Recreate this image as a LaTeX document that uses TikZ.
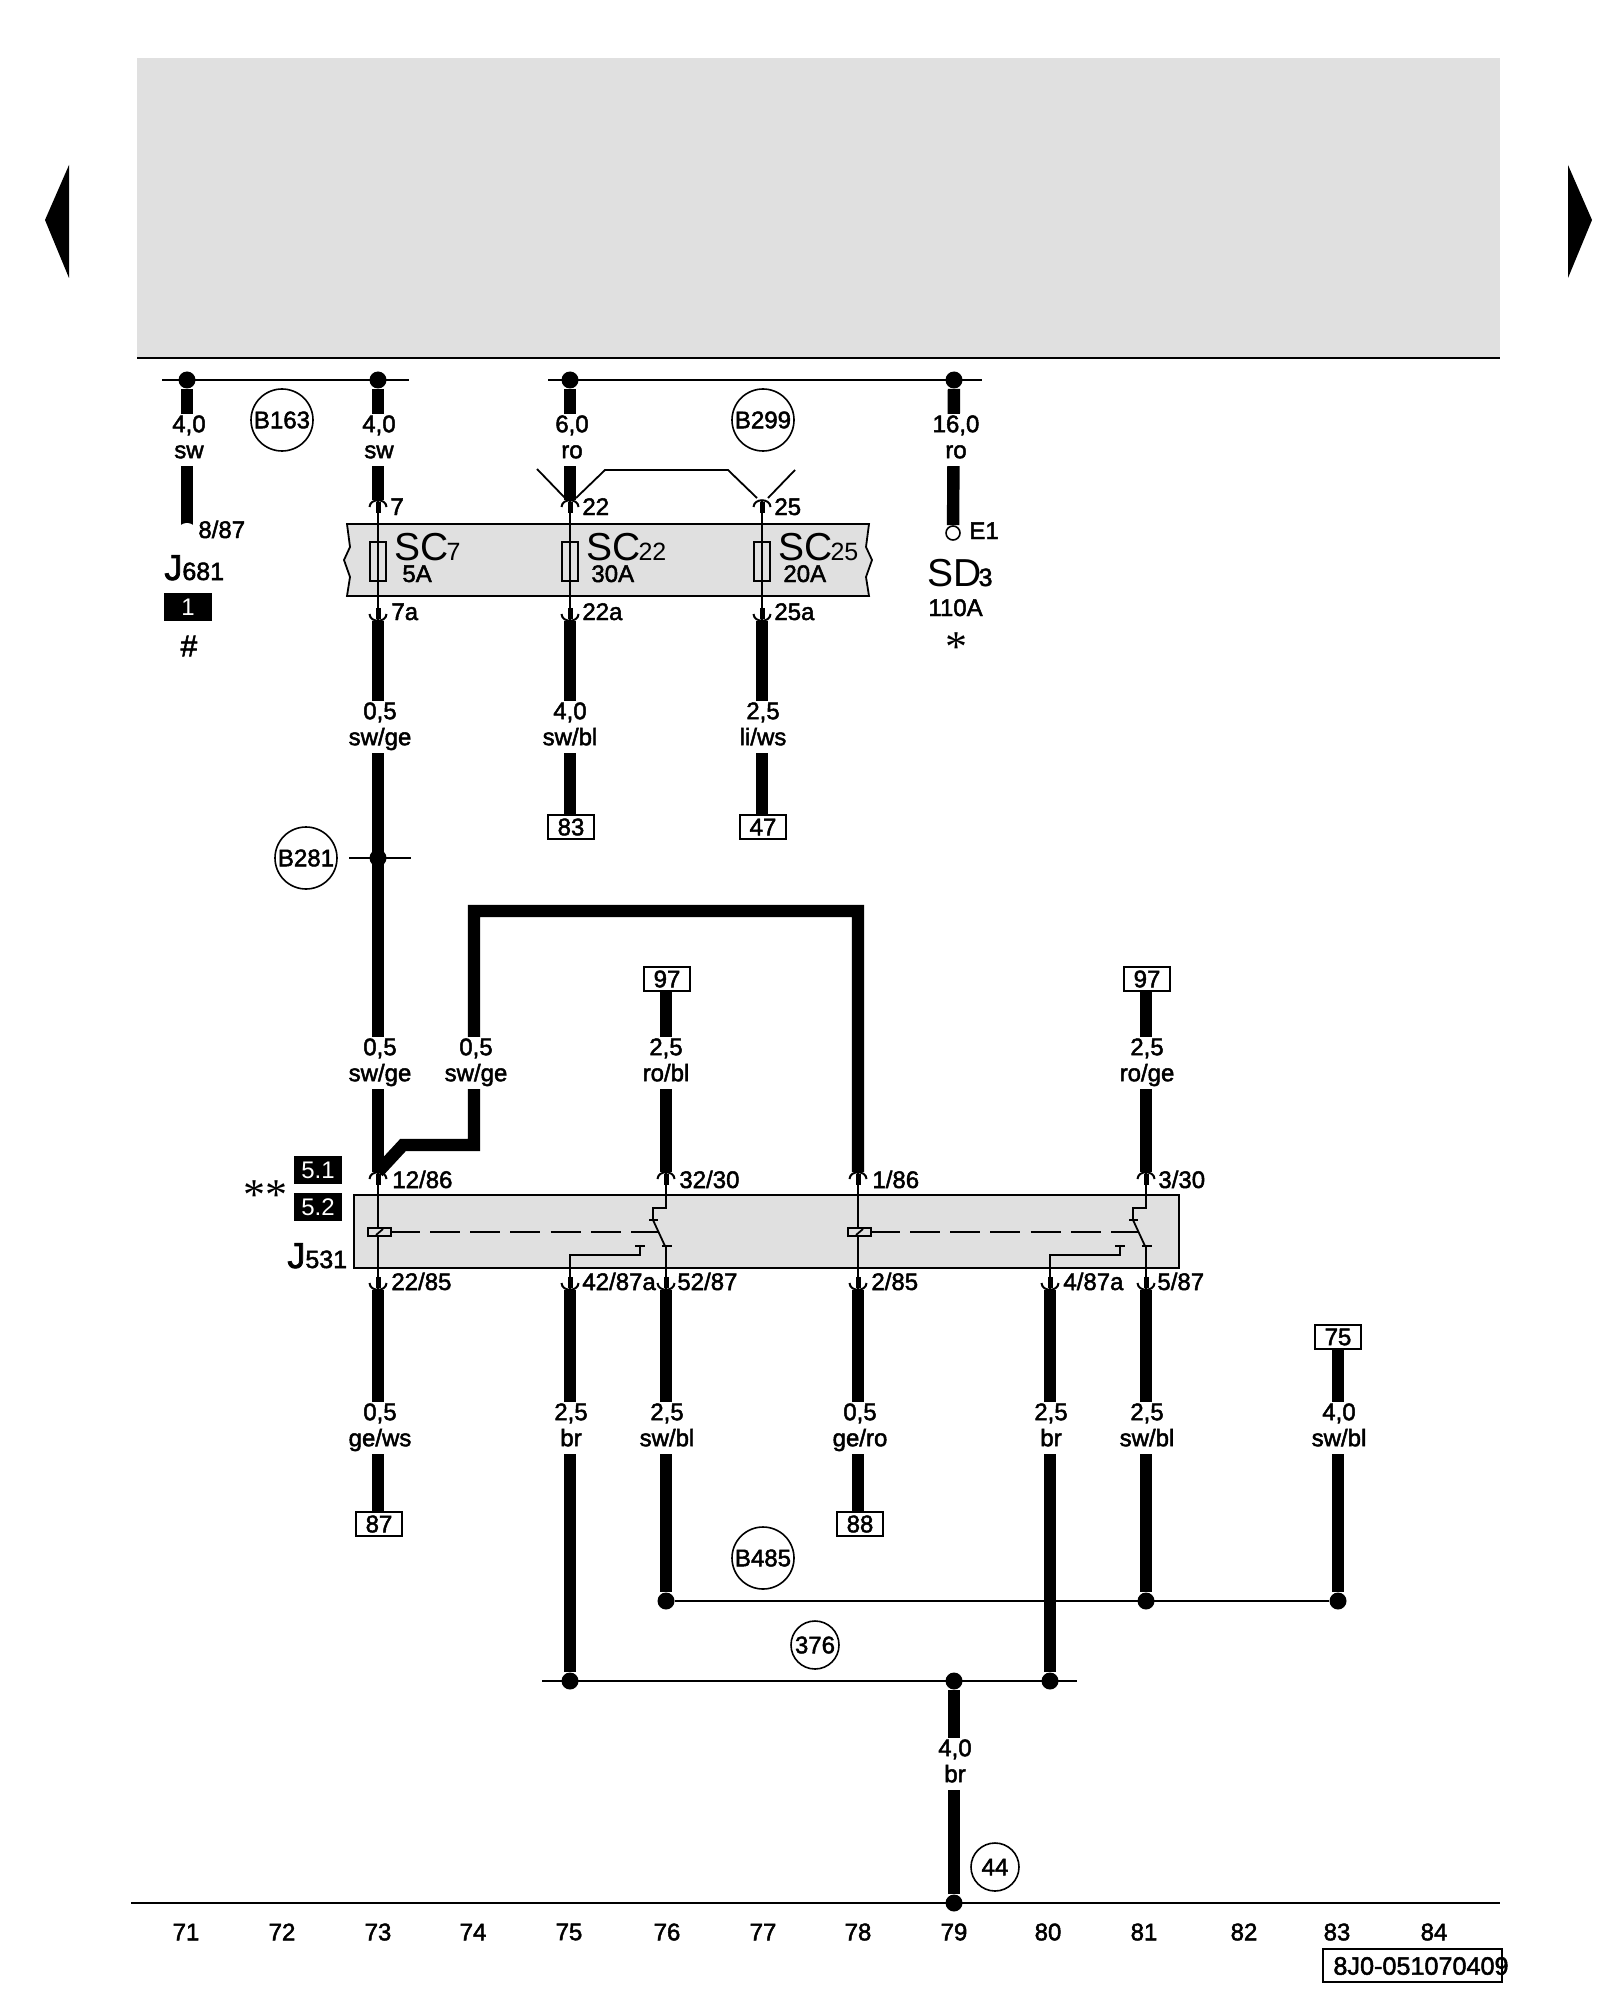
\documentclass[tikz,border=0pt]{standalone}
\usepackage{fontspec}
\setmainfont{Liberation Sans}[FakeBold=2]
\newfontfamily\lightfont{Liberation Sans}
\newfontfamily\symfont{Liberation Serif}
\newcommand\bigsz{\lightfont\fontsize{19.5}{20}\selectfont}
\newcommand\midsz{\fontsize{18}{18}\selectfont}
\newcommand\subsz{\fontsize{12.5}{12.5}\selectfont}
\newcommand\wl[2]{\strut#1\\\strut#2}
\definecolor{panelgray}{HTML}{E0E0E0}
\tikzset{
  wire/.style={line width=6.2pt},
  busline/.style={line width=1pt},
  thinline/.style={line width=.9pt},
  wiredot/.style={circle,fill=black,minimum size=8.5pt,inner sep=0pt},
  wirelabel/.style={fill=white,align=center,inner xsep=1pt,inner ysep=0pt,font=\fontsize{12}{13}\selectfont},
  pinlabel/.style={anchor=base west,inner sep=0pt,font=\fontsize{12}{13}\selectfont},
  partlabel/.style={anchor=base west,inner sep=0pt,font=\fontsize{12}{13}\selectfont},
  termbox/.style={draw,line width=.8pt,fill=white,minimum width=23pt,minimum height=12pt,inner sep=0pt,font=\fontsize{12}{13}\selectfont},
  secbox/.style={fill=black,text=white,minimum width=24pt,minimum height=14pt,inner sep=0pt,font=\lightfont\fontsize{12}{13}\selectfont},
  refcircle/.style={circle,draw,line width=.8pt,minimum size=31pt,inner sep=0pt,font=\fontsize{12}{13}\selectfont},
  smallcircle/.style={refcircle,minimum size=24pt},
  fusebox/.style={draw,line width=.8pt,minimum width=8pt,minimum height=19.5pt,inner sep=0pt},
  colnum/.style={inner sep=0pt,font=\fontsize{12}{13}\selectfont},
  pinup/.pic={
    \draw[line width=1pt] (-8.5,7) .. controls (-8,-2) and (8,-2) .. (8.5,7);
    \draw[line width=2.5pt] (0,2) -- (0,13);
  },
  pindown/.pic={
    \draw[line width=1pt] (-8.5,-7) .. controls (-8,2) and (8,2) .. (8.5,-7);
    \draw[line width=2.5pt] (0,-2) -- (0,-13);
  },
  relaysw/.pic={
    \draw[thinline] (0,0) -- (0,118);
    \node[draw,line width=.8pt,fill=panelgray,minimum width=11.5pt,minimum height=4pt,inner sep=0pt] (-coil) at (1.5,60) {};
    \draw[thinline] (-2,63) -- (5,57);
    \draw[line width=1.1pt,dash pattern=on 15pt off 5.1pt,dash phase=1pt] (-coil.east) -- (281,60);
    \draw[thinline] (288,0) -- (288,36) -- (275,36) -- (275,48) -- (287,74) -- (288,74) -- (288,118);
    \draw[thinline] (271,48) -- (280,48);
    \draw[thinline] (284,74) -- (294,74);
    \draw[thinline] (257,74) -- (267,74);
    \draw[thinline] (262,74) -- (262,83) -- (192,83) -- (192,118);
  },
}
\begin{document}
\begin{tikzpicture}[x=.5pt,y=-.5pt]
\useasboundingbox (0,0) rectangle (1600,2000);
% page head
\fill[panelgray] (137,58) rectangle (1500,358);
\draw[line width=1pt] (137,358) -- (1500,358);
\fill (69,165) -- (45,220) -- (69,278) -- cycle;
\fill (1568,165) -- (1592,220) -- (1568,278) -- cycle;
% grey units
\draw[thinline,fill=panelgray] (347,524) -- (350,547) -- (344,560) -- (350,577) -- (347,596) -- (869,596) -- (866,577) -- (872,560) -- (866,547) -- (869,524) -- cycle;
\draw[thinline,fill=panelgray] (354,1195) rectangle (1179,1268);
% top bus
\draw[busline] (162,380) -- (409,380);
\draw[busline] (548,380) -- (982,380);
\node[wiredot] (d71) at (187,380) {};
\node[wiredot] (d73) at (378,380) {};
\node[wiredot] (d75) at (570,380) {};
\node[wiredot] (d79) at (954,380) {};
\coordinate (j681) at (187,527);
\coordinate (pin7) at (378,500);
\coordinate (pin22) at (570,500);
\coordinate (pin25) at (762,500);
\coordinate (pin7a) at (378,621);
\coordinate (pin22a) at (570,621);
\coordinate (pin25a) at (762,621);
\node[circle,draw,line width=.8pt,fill=white,minimum size=7pt,inner sep=0pt] (e1) at (953,533) {};
\draw[wire] (d71) -- (j681);
\draw[wire] (d73) -- (pin7);
\draw[wire] (d75) -- (pin22);
\draw[wire] (d79) -- (e1);
\fill[white] (187,529) ellipse (8 and 6);
% fuses
\draw[thinline] (pin7) -- (pin7a);
\draw[thinline] (pin22) -- (pin22a);
\draw[thinline] (pin25) -- (pin25a);
\node[fusebox] (f7) at (378,561.5) {};
\node[fusebox] (f22) at (570,561.5) {};
\node[fusebox] (f25) at (762,561.5) {};
\pic at (pin7) {pinup};
\pic at (pin22) {pinup};
\pic at (pin25) {pinup};
\pic at (pin7a) {pindown};
\pic at (pin22a) {pindown};
\pic at (pin25a) {pindown};
\draw[thinline] (537,469) -- (565,498);
\draw[thinline] (576,498) -- (605,470) -- (728,470) -- (757,498);
\draw[thinline] (768,498) -- (795,470);
% terminals and wires below fuses
\node[termbox] (t83) at (571,827) {83};
\node[termbox] (t47) at (763,827) {47};
\node[wiredot] (d281) at (378,858) {};
\draw[wire] (pin22a) -- (t83.north -| pin22a);
\draw[wire] (pin25a) -- (t47.north -| pin25a);
\node[refcircle] (b281) at (306,858) {B281};
\draw[busline] (349,858) -- (411,858);
% relay wires
\coordinate (pin12) at (378,1172);
\coordinate (pin32) at (666,1172);
\coordinate (pin1) at (858,1172);
\coordinate (pin3) at (1146,1172);
\coordinate (pin22b) at (378,1290);
\coordinate (pin42) at (570,1290);
\coordinate (pin52) at (666,1290);
\coordinate (pin2) at (858,1290);
\coordinate (pin4) at (1050,1290);
\coordinate (pin5) at (1146,1290);
\coordinate (loopa) at (858,911);
\coordinate (loopb) at (474,911);
\coordinate (loopc) at (474,1145);
\coordinate (loopd) at (403,1145);
\node[termbox] (t97a) at (667,979) {97};
\node[termbox] (t97b) at (1147,979) {97};
\node[termbox] (t87) at (379,1524) {87};
\node[termbox] (t88) at (860,1524) {88};
\node[termbox] (t75) at (1338,1337) {75};
\draw[wire] (pin7a) -- (pin12);
\draw[wire] (pin12) -- (loopd) -- (loopc) -- (loopb) -- (loopa) -- (pin1);
\draw[wire] (t97a.south -| pin32) -- (pin32);
\draw[wire] (t97b.south -| pin3) -- (pin3);
\draw[wire] (pin22b) -- (t87.north -| pin22b);
\draw[wire] (pin2) -- (t88.north -| pin2);
\pic at (pin12) {relaysw};
\pic at (pin1) {relaysw};
\pic at (pin12) {pinup};
\pic at (pin32) {pinup};
\pic at (pin1) {pinup};
\pic at (pin3) {pinup};
\pic at (pin22b) {pindown};
\pic at (pin42) {pindown};
\pic at (pin52) {pindown};
\pic at (pin2) {pindown};
\pic at (pin4) {pindown};
\pic at (pin5) {pindown};
% lower buses
\node[wiredot] (d76) at (666,1601) {};
\node[wiredot] (d81) at (1146,1601) {};
\node[wiredot] (d83) at (1338,1601) {};
\node[wiredot] (d75b) at (570,1681) {};
\node[wiredot] (d80) at (1050,1681) {};
\node[wiredot] (d79b) at (954,1681) {};
\node[wiredot] (d79c) at (954,1903) {};
\draw[busline] (d76) -- (d83);
\draw[busline] (542,1681) -- (1077,1681);
\draw[wire] (pin42) -- (d75b);
\draw[wire] (pin52) -- (d76);
\draw[wire] (pin4) -- (d80);
\draw[wire] (pin5) -- (d81);
\draw[wire] (t75.south -| d83) -- (d83);
\draw[wire] (d79b) -- (d79c);
\draw[line width=1pt] (131,1903) -- (1500,1903);
% wire labels
\node[wirelabel] (l71) at (189,440) {\wl{4,0}{sw}};
\node[wirelabel] (l73) at (379,440) {\wl{4,0}{sw}};
\node[wirelabel] (l75) at (572,440) {\wl{6,0}{ro}};
\node[wirelabel] (l79) at (956,440) {\wl{16,0}{ro}};
\node[wirelabel] (l73b) at (380,727) {\wl{0,5}{sw/ge}};
\node[wirelabel] (l75b) at (570,727) {\wl{4,0}{sw/bl}};
\node[wirelabel] (l77b) at (763,727) {\wl{2,5}{li/ws}};
\node[wirelabel] (l73c) at (380,1063) {\wl{0,5}{sw/ge}};
\node[wirelabel] (l74c) at (476,1063) {\wl{0,5}{sw/ge}};
\node[wirelabel] (l76c) at (666,1063) {\wl{2,5}{ro/bl}};
\node[wirelabel] (l81c) at (1147,1063) {\wl{2,5}{ro/ge}};
\node[wirelabel] (l73d) at (380,1428) {\wl{0,5}{ge/ws}};
\node[wirelabel] (l75d) at (571,1428) {\wl{2,5}{br}};
\node[wirelabel] (l76d) at (667,1428) {\wl{2,5}{sw/bl}};
\node[wirelabel] (l78d) at (860,1428) {\wl{0,5}{ge/ro}};
\node[wirelabel] (l80d) at (1051,1428) {\wl{2,5}{br}};
\node[wirelabel] (l81d) at (1147,1428) {\wl{2,5}{sw/bl}};
\node[wirelabel] (l83d) at (1339,1428) {\wl{4,0}{sw/bl}};
\node[wirelabel] (l79d) at (955,1764) {\wl{4,0}{br}};
% circles
\node[refcircle] (b163) at (282,420) {B163};
\node[refcircle] (b299) at (763,420) {B299};
\node[refcircle] (b485) at (763,1558) {B485};
\node[smallcircle] (c376) at (815,1645) {376};
\node[smallcircle] (c44) at (995,1867) {44};
% pin labels
\node[pinlabel] (n887) at (198,538) {8/87};
\node[pinlabel] (n7) at (390,515) {7};
\node[pinlabel] (n22) at (582,515) {22};
\node[pinlabel] (n25) at (774,515) {25};
\node[pinlabel] (n7a) at (391,620) {7a};
\node[pinlabel] (n22a) at (582,620) {22a};
\node[pinlabel] (n25a) at (774,620) {25a};
\node[pinlabel] (ne1) at (969,539) {E1};
\node[pinlabel] (n1286) at (392,1188) {12/86};
\node[pinlabel] (n3230) at (679,1188) {32/30};
\node[pinlabel] (n186) at (872,1188) {1/86};
\node[pinlabel] (n330) at (1158,1188) {3/30};
\node[pinlabel] (n2285) at (391,1290) {22/85};
\node[pinlabel] (n4287) at (582,1290) {42/87a};
\node[pinlabel] (n5287) at (677,1290) {52/87};
\node[pinlabel] (n285) at (871,1290) {2/85};
\node[pinlabel] (n487) at (1063,1290) {4/87a};
\node[pinlabel] (n587) at (1157,1290) {5/87};
% part names
\node[partlabel] (j681n) at (164,580) {{\midsz J}{\subsz 681}};
\node[secbox] (s1) at (188,607) {1};
\node[inner sep=0pt,font=\fontsize{15}{15}\selectfont] (hash) at (189,646) {\#};
\node[partlabel] (sc7) at (394,560) {{\bigsz SC}{\lightfont\subsz\kern-1pt 7}};
\node[partlabel] (a5) at (402,582) {5A};
\node[partlabel] (sc22) at (586,560) {{\bigsz SC}{\lightfont\subsz\kern-1pt 22}};
\node[partlabel] (a30) at (591,582) {30A};
\node[partlabel] (sc25) at (778,560) {{\bigsz SC}{\lightfont\subsz\kern-1pt 25}};
\node[partlabel] (a20) at (783,582) {20A};
\node[partlabel] (sd3) at (927,586) {{\bigsz SD}{\subsz\kern-1.5pt 3}};
\node[partlabel] (a110) at (928,616) {110A};
\node[inner sep=0pt,font=\symfont\fontsize{22}{22}\selectfont] (star) at (956,647) {*};
\node[secbox] (s51) at (318,1170) {5.1};
\node[secbox] (s52) at (318,1207) {5.2};
\node[inner sep=0pt,font=\symfont\fontsize{22}{22}\selectfont] (stars) at (265,1195) {**};
\node[partlabel] (j531n) at (287,1268) {{\midsz J}{\subsz 531}};
% column numbers
\node[colnum] (c71) at (186,1932) {71};
\node[colnum] (c72) at (282,1932) {72};
\node[colnum] (c73) at (378,1932) {73};
\node[colnum] (c74) at (473,1932) {74};
\node[colnum] (c75) at (569,1932) {75};
\node[colnum] (c76) at (667,1932) {76};
\node[colnum] (c77) at (763,1932) {77};
\node[colnum] (c78) at (858,1932) {78};
\node[colnum] (c79) at (954,1932) {79};
\node[colnum] (c80) at (1048,1932) {80};
\node[colnum] (c81) at (1144,1932) {81};
\node[colnum] (c82) at (1244,1932) {82};
\node[colnum] (c83) at (1337,1932) {83};
\node[colnum] (c84) at (1434,1932) {84};
\draw[line width=1pt] (1323,1949) rectangle (1502,1982);
\node[colnum,font=\fontsize{12.6}{13}\selectfont] (docno) at (1421,1966) {8J0-051070409};
\end{tikzpicture}
\end{document}
